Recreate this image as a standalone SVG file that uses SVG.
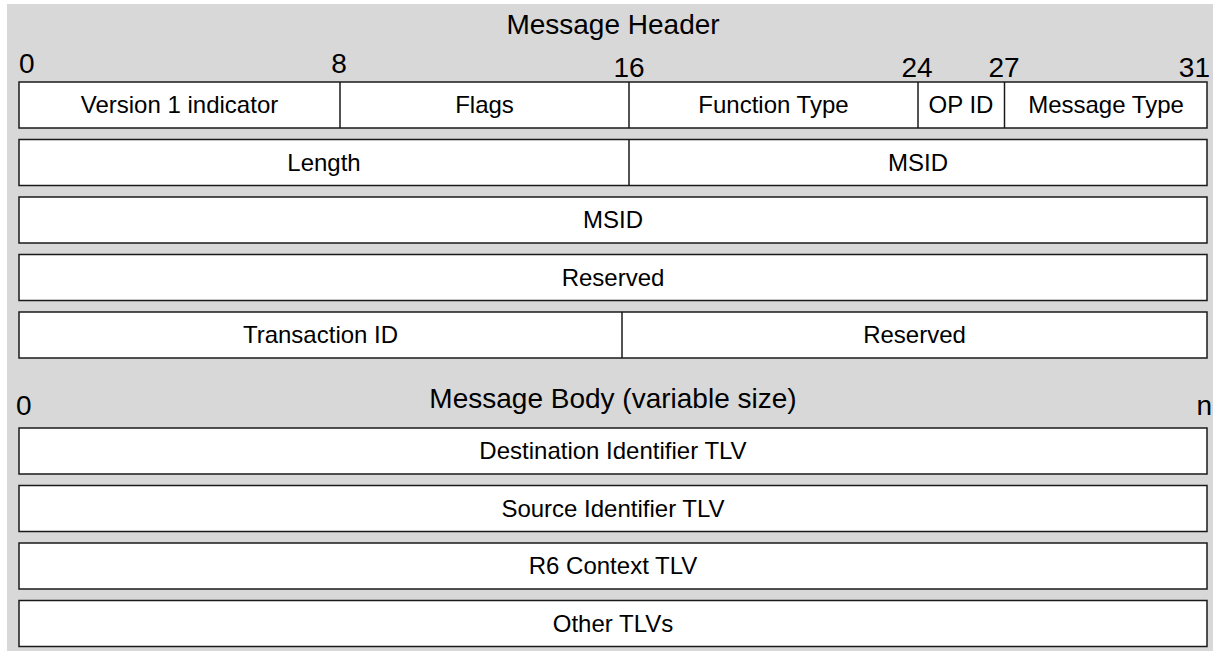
<svg xmlns="http://www.w3.org/2000/svg" width="1213" height="651" viewBox="0 0 1213 651">
<style>
.bg{fill:#d8d8d8;}
.f{fill:#fff;stroke:#1a1a1a;stroke-width:1.5;}
.d{stroke:#1a1a1a;stroke-width:1.5;}
.t{font-family:"Liberation Sans",Arial,sans-serif;font-size:24px;fill:#000;}
.lbl{text-anchor:middle;}
.big{font-family:"Liberation Sans",Arial,sans-serif;font-size:28px;fill:#000;}
</style>
<rect class="bg" x="7" y="4" width="1206" height="647"/>
<g id="titles">
<text class="big" x="613" y="34" text-anchor="middle">Message Header</text>
<text class="big" x="613" y="408" text-anchor="middle">Message Body (variable size)</text>
</g>
<g id="bit-numbers">
<text class="big" x="19" y="73">0</text>
<text class="big" x="339" y="73" text-anchor="middle">8</text>
<text class="big" x="629" y="77" text-anchor="middle">16</text>
<text class="big" x="917" y="77" text-anchor="middle">24</text>
<text class="big" x="1004" y="77" text-anchor="middle">27</text>
<text class="big" x="1210" y="77" text-anchor="end">31</text>
<text class="big" x="16" y="415">0</text>
<text class="big" x="1212" y="415" text-anchor="end">n</text>
</g>
<g id="row1">
<rect class="f" x="19" y="82" width="1188" height="46"/>
<line class="d" x1="340" y1="82" x2="340" y2="128"/>
<line class="d" x1="629" y1="82" x2="629" y2="128"/>
<line class="d" x1="918" y1="82" x2="918" y2="128"/>
<line class="d" x1="1004.5" y1="82" x2="1004.5" y2="128"/>
<g id="version"><text class="t lbl" x="179.5" y="113">Version 1 indicator</text></g>
<g id="flags"><text class="t lbl" x="484.5" y="113">Flags</text></g>
<g id="function-type"><text class="t lbl" x="773.5" y="113">Function Type</text></g>
<g id="op-id"><text class="t lbl" x="961" y="113">OP ID</text></g>
<g id="message-type"><text class="t lbl" x="1106" y="113">Message Type</text></g>
</g>
<g id="row2">
<rect class="f" x="19" y="139.5" width="1188" height="46"/>
<line class="d" x1="629" y1="139.5" x2="629" y2="185.5"/>
<g id="length"><text class="t lbl" x="324" y="170.5">Length</text></g>
<g id="msid1"><text class="t lbl" x="918" y="170.5">MSID</text></g>
</g>
<g id="row3">
<rect class="f" x="19" y="197" width="1188" height="46"/>
<text class="t lbl" x="613" y="228">MSID</text>
</g>
<g id="row4">
<rect class="f" x="19" y="254.5" width="1188" height="46"/>
<text class="t lbl" x="613" y="285.5">Reserved</text>
</g>
<g id="row5">
<rect class="f" x="19" y="312" width="1188" height="46"/>
<line class="d" x1="622" y1="312" x2="622" y2="358"/>
<g id="transaction-id"><text class="t lbl" x="320.5" y="343">Transaction ID</text></g>
<g id="reserved2"><text class="t lbl" x="914.5" y="343">Reserved</text></g>
</g>
<g id="destination-tlv">
<rect class="f" x="19" y="428" width="1188" height="46"/>
<text class="t lbl" x="613" y="459">Destination Identifier TLV</text>
</g>
<g id="source-tlv">
<rect class="f" x="19" y="485.5" width="1188" height="46"/>
<text class="t lbl" x="613" y="516.5">Source Identifier TLV</text>
</g>
<g id="r6-tlv">
<rect class="f" x="19" y="543" width="1188" height="46"/>
<text class="t lbl" x="613" y="574">R6 Context TLV</text>
</g>
<g id="other-tlvs">
<rect class="f" x="19" y="600.5" width="1188" height="46"/>
<text class="t lbl" x="613" y="631.5">Other TLVs</text>
</g>
<g id="connectors"></g>
</svg>
